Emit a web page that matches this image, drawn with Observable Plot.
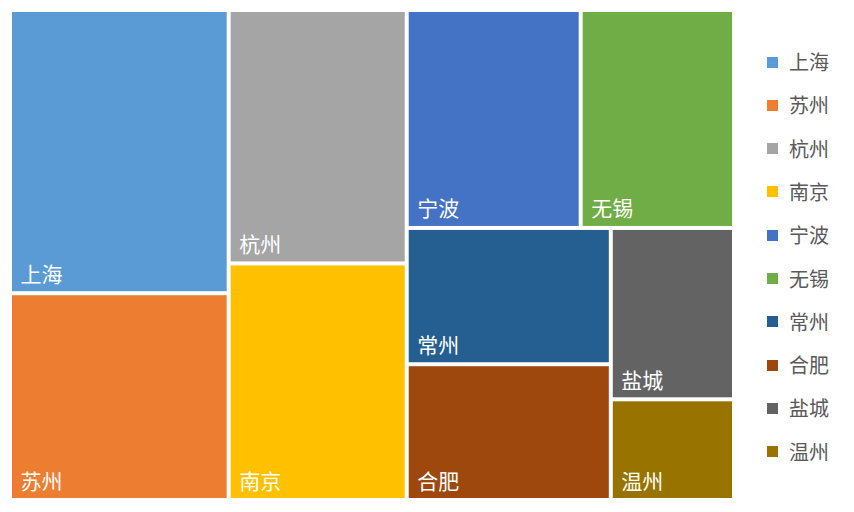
<!DOCTYPE html>
<html><head><meta charset="utf-8">
<script src="https://cdn.jsdelivr.net/npm/d3@7"></script>
<script src="https://cdn.jsdelivr.net/npm/@observablehq/plot@0.6"></script>
<style>
body{margin:0;background:#fff;font-family:"Noto Sans CJK SC","Noto Sans",sans-serif;}
#wrap{position:relative;width:854px;height:512px;overflow:hidden;}
#chart{position:absolute;left:0;top:0;}
#legend{position:absolute;left:767px;top:40.4px;}
.item{display:flex;align-items:center;height:43.3px;font-size:20px;color:#595959;line-height:1;}
.sw{width:11px;height:11px;margin-right:11px;flex:none;}
</style></head><body><div id="wrap"><div id="chart"></div><div id="legend"></div></div>
<script>
const cities = ["上海","苏州","杭州","南京","宁波","无锡","常州","合肥","盐城","温州"];
const values = [619,452,451,421,379,334,278,277,211,124];
const colors = ["#5B9BD5","#ED7D31","#A5A5A5","#FFC000","#4472C4","#70AD47","#255E91","#9E480E","#636363","#997300"];

const W = 720, H = 486;
const root = d3.hierarchy({children: cities.map((name, i) => ({name, value: values[i]}))})
  .sum(d => d.value || 0);
d3.treemap().tile(d3.treemapSquarify.ratio(1)).size([W, H]).paddingInner(4)(root);
const leaves = root.leaves().map(d => ({name: d.data.name, x0: d.x0, x1: d.x1, y0: d.y0, y1: d.y1}));

const chart = Plot.plot({
  width: 744, height: 512, margin: 0,
  x: {domain: [0, W], range: [12, 12 + W], axis: null},
  y: {domain: [0, H], range: [12, 12 + H], axis: null},
  color: {domain: cities, range: colors},
  style: {fontFamily: '"Noto Sans CJK SC","Noto Sans",sans-serif', background: "transparent"},
  marks: [
    Plot.rect(leaves, {x1: "x0", x2: "x1", y1: "y0", y2: "y1", fill: "name"}),
    Plot.text(leaves, {x: "x0", y: "y1", text: "name", fill: "white", textAnchor: "start",
      lineAnchor: "bottom", dx: 8, dy: -10, fontSize: 21})
  ]
});
document.getElementById("chart").appendChild(chart);

const legend = d3.select("#legend");
cities.forEach((c, i) => {
  const it = legend.append("div").attr("class", "item");
  it.append("div").attr("class", "sw").style("background", colors[i]);
  it.append("span").text(c);
});
</script></body></html>
